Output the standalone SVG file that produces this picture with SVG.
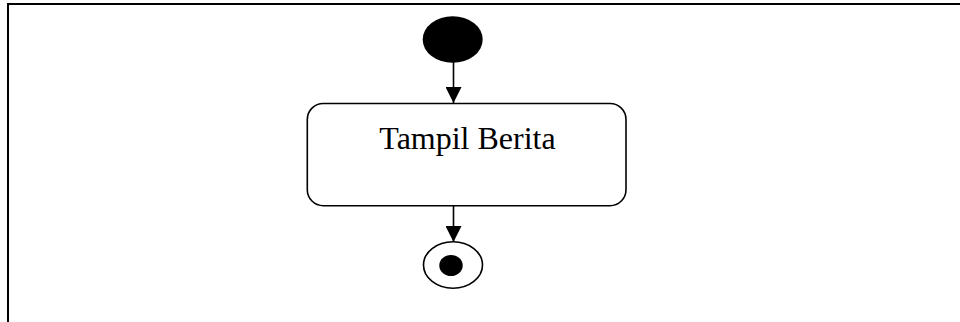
<svg xmlns="http://www.w3.org/2000/svg" width="960" height="322" viewBox="0 0 960 322">
  <style>
    .frame { fill: none; stroke: #000; stroke-width: 2; }
    .edge { fill: none; stroke: #000; stroke-width: 1.6; }
    .action { fill: #fff; stroke: #000; stroke-width: 1.6; }
    .label { font-family: "Liberation Serif", "Times New Roman", serif; font-size: 32px; fill: #000; }
  </style>
  <defs>
    <marker id="arrow" markerUnits="userSpaceOnUse" markerWidth="16" markerHeight="16" refX="16" refY="8" orient="auto">
      <path d="M0,0 L16,8 L0,16 Z" fill="#000"/>
    </marker>
  </defs>
  <rect width="960" height="322" fill="#fff"/>
  <!-- page frame -->
  <path class="frame" d="M8,322 L8,4 L960,4"/>
  <g id="connectors">
    <line class="edge" x1="453.5" y1="62" x2="453.5" y2="103" marker-end="url(#arrow)"/>
    <line class="edge" x1="453.5" y1="206" x2="453.5" y2="242" marker-end="url(#arrow)"/>
  </g>
  <g id="start">
    <ellipse cx="452.7" cy="39.5" rx="30" ry="23.3" fill="#000"/>
  </g>
  <g id="tampil-berita">
    <rect class="action" x="307.3" y="103.5" width="318.7" height="102.2" rx="16" ry="16"/>
    <text class="label" x="467.5" y="148.5" text-anchor="middle">Tampil Berita</text>
  </g>
  <g id="end">
    <ellipse cx="453" cy="265" rx="29.5" ry="23.2" fill="#fff" stroke="#000" stroke-width="1.6"/>
    <ellipse cx="451" cy="265.5" rx="11.7" ry="10.5" fill="#000"/>
  </g>
</svg>
